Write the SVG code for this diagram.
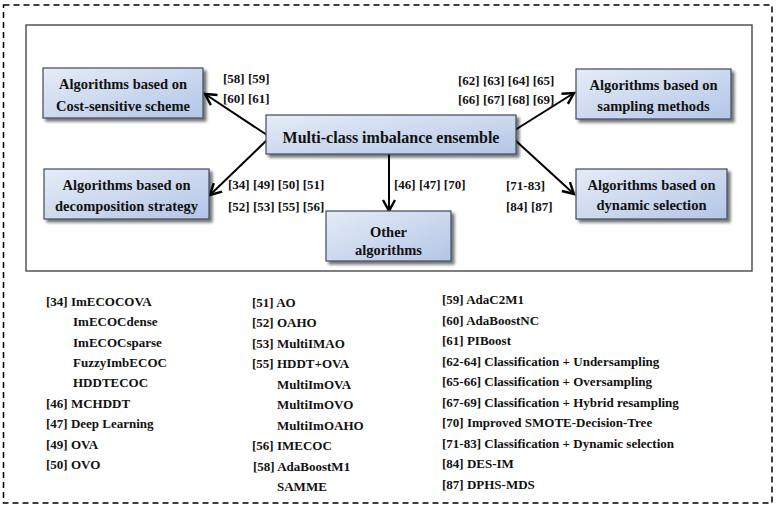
<svg xmlns="http://www.w3.org/2000/svg" width="777" height="509" viewBox="0 0 777 509">
<defs>
<linearGradient id="g" x1="0" y1="0" x2="1" y2="1">
<stop offset="0" stop-color="#e6ecf7"/>
<stop offset="1" stop-color="#b3c6e6"/>
</linearGradient>
<filter id="sh" x="-10%" y="-20%" width="130%" height="160%">
<feGaussianBlur in="SourceAlpha" stdDeviation="1.5"/>
<feOffset dx="3" dy="3" result="b"/>
<feComponentTransfer><feFuncA type="linear" slope="0.55"/></feComponentTransfer>
<feMerge><feMergeNode/><feMergeNode in="SourceGraphic"/></feMerge>
</filter>
<marker id="ah" markerUnits="userSpaceOnUse" markerWidth="16" markerHeight="16" refX="12" refY="7" orient="auto" viewBox="0 0 16 14">
<path d="M1,1 L12,7 L1,13" fill="none" stroke="#000" stroke-width="2.4"/>
</marker>
<style>
.box{fill:url(#g);stroke:#3c4a60;stroke-width:1.2;filter:url(#sh)}
.bt{font-family:"Liberation Serif","Times New Roman",serif;font-weight:bold;font-size:14.5px;text-anchor:middle;fill:#111}
.mt{font-family:"Liberation Serif","Times New Roman",serif;font-weight:bold;font-size:16px;text-anchor:middle;fill:#111}
.lb{font-family:"Liberation Serif","Times New Roman",serif;font-weight:bold;font-size:13px;fill:#111}
.li{font-family:"Liberation Serif","Times New Roman",serif;font-weight:bold;font-size:13px;fill:#111}
.con{stroke:#000;stroke-width:2;fill:none;marker-end:url(#ah)}
</style>
</defs>
<rect x="0" y="0" width="777" height="509" fill="#fff"/>
<rect x="3.5" y="5" width="768.5" height="498" fill="none" stroke="#000" stroke-width="1.5" stroke-dasharray="6,4"/>
<rect x="26" y="25" width="726" height="246" fill="none" stroke="#555" stroke-width="1.5"/>

<g id="connectors">
<line class="con" x1="267" y1="135" x2="205" y2="94"/>
<line class="con" x1="267" y1="140" x2="210" y2="195"/>
<line class="con" x1="515" y1="130" x2="574" y2="93"/>
<line class="con" x1="515" y1="140" x2="574" y2="194"/>
<line class="con" x1="389" y1="154" x2="389" y2="211"/>
</g>

<g id="center">
<rect class="box" x="266" y="115" width="250" height="39"/>
<text class="mt" x="391" y="142.5">Multi-class imbalance ensemble</text>
</g>
<g id="cost">
<rect class="box" x="43" y="68" width="160" height="50"/>
<text class="bt" x="123" y="89">Algorithms based on</text>
<text class="bt" x="123" y="111">Cost-sensitive scheme</text>
</g>
<g id="decomp">
<rect class="box" x="44" y="169" width="165" height="50"/>
<text class="bt" x="126.5" y="190">Algorithms based on</text>
<text class="bt" x="126.5" y="211">decomposition strategy</text>
</g>
<g id="sampling">
<rect class="box" x="576" y="69" width="155" height="50"/>
<text class="bt" x="653.5" y="90">Algorithms based on</text>
<text class="bt" x="653.5" y="111">sampling methods</text>
</g>
<g id="dynamic">
<rect class="box" x="576" y="169" width="151" height="50"/>
<text class="bt" x="651.5" y="190">Algorithms based on</text>
<text class="bt" x="651.5" y="210">dynamic selection</text>
</g>
<g id="other">
<rect class="box" x="326" y="211" width="125" height="50"/>
<text class="bt" x="388.5" y="237">Other</text>
<text class="bt" x="388.5" y="255">algorithms</text>
</g>

<g id="labels">
<text class="lb" x="223" y="82.5">[58] [59]</text>
<text class="lb" x="223" y="102.5">[60] [61]</text>
<text class="lb" x="228" y="188.5">[34] [49] [50] [51]</text>
<text class="lb" x="228" y="210.5">[52] [53] [55] [56]</text>
<text class="lb" x="458" y="84.5">[62] [63] [64] [65]</text>
<text class="lb" x="458" y="103.5">[66] [67] [68] [69]</text>
<text class="lb" x="394" y="188.5">[46] [47] [70]</text>
<text class="lb" x="506" y="189.5">[71-83]</text>
<text class="lb" x="506" y="210.5">[84] [87]</text>
</g>

<g id="list1">
<text class="li" x="46" y="306">[34] ImECOCOVA</text>
<text class="li" x="73" y="326">ImECOCdense</text>
<text class="li" x="73" y="346.5">ImECOCsparse</text>
<text class="li" x="73" y="367">FuzzyImbECOC</text>
<text class="li" x="73" y="387">HDDTECOC</text>
<text class="li" x="46" y="407.5">[46] MCHDDT</text>
<text class="li" x="46" y="428">[47] Deep Learning</text>
<text class="li" x="46" y="448.5">[49] OVA</text>
<text class="li" x="46" y="469">[50] OVO</text>
</g>
<g id="list2">
<text class="li" x="252" y="306.5">[51] AO</text>
<text class="li" x="252" y="327">[52] OAHO</text>
<text class="li" x="252" y="347.5">[53] MultiIMAO</text>
<text class="li" x="252" y="368">[55] HDDT+OVA</text>
<text class="li" x="277" y="388.5">MultiImOVA</text>
<text class="li" x="277" y="409">MultiImOVO</text>
<text class="li" x="277" y="429.5">MultiImOAHO</text>
<text class="li" x="252" y="450">[56] IMECOC</text>
<text class="li" x="253" y="470.5">[58] AdaBoostM1</text>
<text class="li" x="277" y="491">SAMME</text>
</g>
<g id="list3">
<text class="li" x="442" y="304">[59] AdaC2M1</text>
<text class="li" x="442" y="324.5">[60] AdaBoostNC</text>
<text class="li" x="442" y="345">[61] PIBoost</text>
<text class="li" x="442" y="365.5">[62-64] Classification + Undersampling</text>
<text class="li" x="442" y="386">[65-66] Classification + Oversampling</text>
<text class="li" x="442" y="406.5">[67-69] Classification + Hybrid resampling</text>
<text class="li" x="442" y="427">[70] Improved SMOTE-Decision-Tree</text>
<text class="li" x="442" y="447.5">[71-83] Classification + Dynamic selection</text>
<text class="li" x="442" y="468">[84] DES-IM</text>
<text class="li" x="442" y="488.5">[87] DPHS-MDS</text>
</g>
</svg>
